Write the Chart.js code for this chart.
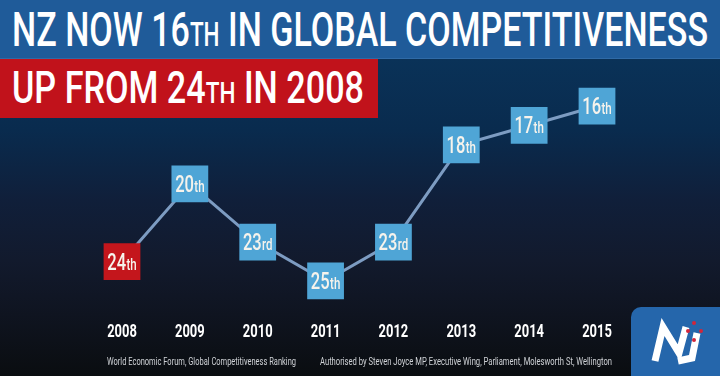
<!DOCTYPE html>
<html>
<head>
<meta charset="utf-8">
<script src="https://cdn.jsdelivr.net/npm/chart.js@4"></script>
<style>
html, body { margin: 0; padding: 0; }
body {
  width: 720px; height: 376px; overflow: hidden; position: relative;
  font-family: Roboto, 'Noto Sans', sans-serif;
  background: linear-gradient(to bottom, #0a3258 0px, #0a3258 59px, #092b4e 130px, #101f3a 200px, #121a2d 260px, #0f1420 315px, #0a0d10 376px);
}
#chart { position: absolute; left: 0; top: 0; }
.band { position: absolute; left: 0; }
#band1 { top: 0; width: 720px; height: 58px; background: #1f5b99; border-bottom: 1px solid #2f6aa6; }
#band2 { top: 59px; width: 378px; height: 59px; background: #c1121b; }
.fit { position: absolute; white-space: nowrap; line-height: 1; transform-origin: 0 0; color: #fff; font-weight: 500; }
.small { font-size: 0.66em; }
.foot { color: #cfd2d6; font-size: 11px; font-weight: 400; }
</style>
</head>
<body>
<div class="band" id="band1"></div>
<div class="band" id="band2"></div>
<span class="fit" data-w="696" style="left:11.7px;top:5.3px;font-size:49px">NZ NOW 16<span class="small">TH</span> IN GLOBAL COMPETITIVENESS</span>
<span class="fit" data-w="352" style="left:11.7px;top:66.3px;font-size:44px">UP FROM 24<span class="small">TH</span> IN 2008</span>
<canvas id="chart" width="720" height="376"></canvas>
<span class="fit foot" data-w="189" style="left:107px;top:355.6px">World Economic Forum, Global Competitiveness Ranking</span>
<span class="fit foot" data-w="292" style="left:320px;top:355.6px">Authorised by Steven Joyce MP, Executive Wing, Parliament, Molesworth St, Wellington</span>
<script>
// rankings
var years = ['2008', '2009', '2010', '2011', '2012', '2013', '2014', '2015'];
var ranks = [24, 20, 23, 25, 23, 18, 17, 16];
var suffixes = ['th', 'th', 'rd', 'th', 'rd', 'th', 'th', 'th'];

// squeeze the html texts to the widths in the picture
document.querySelectorAll('.fit').forEach(function(el) {
  var w = el.getBoundingClientRect().width;
  el.style.transform = 'scaleX(' + (+el.dataset.w / w) + ')';
});

var squeeze = 0.72;

// "24th" style labels inside the boxes
var rankLabels = {
  id: 'rankLabels',
  afterDatasetsDraw: function(chart) {
    var ctx = chart.ctx;
    var pts = chart.getDatasetMeta(0).data;
    ctx.save();
    ctx.fillStyle = '#f6f3ec';
    ctx.textBaseline = 'alphabetic';
    pts.forEach(function(p, i) {
      var num = String(ranks[i]), suf = suffixes[i];
      ctx.font = '500 23px Roboto';
      var wn = ctx.measureText(num).width;
      ctx.font = '500 16px Roboto';
      var ws = ctx.measureText(suf).width;
      var total = (wn + ws + 0.5) * squeeze;
      ctx.save();
      ctx.translate(p.x - total / 2, p.y + 8);
      ctx.scale(squeeze, 1);
      ctx.font = '500 23px Roboto';
      ctx.fillText(num, 0, 0);
      ctx.font = '500 16px Roboto';
      ctx.fillText(suf, wn + 0.5, 0);
      ctx.restore();
    });
    ctx.restore();
  }
};

// year labels under the points + party logo
var yearAxis = {
  id: 'yearAxis',
  afterDraw: function(chart) {
    var ctx = chart.ctx;
    var xs = chart.scales.x;
    ctx.save();
    ctx.fillStyle = '#ffffff';
    ctx.font = 'bold 18px Roboto';
    ctx.textBaseline = 'alphabetic';
    years.forEach(function(y, i) {
      var x = xs.getPixelForValue(i);
      var w = ctx.measureText(y).width * squeeze;
      ctx.save();
      ctx.translate(x - w / 2, 337);
      ctx.scale(squeeze, 1);
      ctx.fillText(y, 0, 0);
      ctx.restore();
    });

    // logo
    ctx.fillStyle = '#2566ab';
    ctx.beginPath();
    ctx.roundRect(631, 307, 100, 80, 10);
    ctx.fill();
    ctx.strokeStyle = '#ffffff';
    ctx.lineWidth = 7;
    ctx.lineJoin = 'miter';
    ctx.beginPath();
    ctx.moveTo(655, 361);
    ctx.lineTo(663, 327);
    ctx.lineTo(679, 353);
    ctx.lineTo(686, 327);
    ctx.stroke();
    ctx.beginPath();
    ctx.moveTo(697, 333);
    ctx.lineTo(692, 358);
    ctx.lineTo(678, 361);
    ctx.stroke();
    ctx.fillStyle = '#d3263a';
    [[694, 323], [701, 331], [688, 331], [694, 340]].forEach(function(s) {
      ctx.beginPath();
      ctx.arc(s[0], s[1], 2, 0, Math.PI * 2);
      ctx.fill();
    });
    ctx.restore();
  }
};

var chart = new Chart('chart', {
  type: 'line',
  data: {
    labels: years,
    datasets: [{
      data: ranks,
      borderColor: '#7d9cc2',
      borderWidth: 3,
      tension: 0,
      clip: false,
      pointStyle: 'rect',
      pointRadius: 26,
      pointHoverRadius: 26,
      pointBorderWidth: 0,
      pointBackgroundColor: function(c) { return c.dataIndex === 0 ? '#c4161c' : '#4fa5d6'; }
    }]
  },
  options: {
    responsive: false,
    animation: false,
    devicePixelRatio: 1,
    layout: { padding: { left: 122, right: 123, top: 86.6, bottom: 75.6 } },
    plugins: { legend: { display: false }, tooltip: { enabled: false } },
    scales: {
      x: { display: false },
      y: { display: false, reverse: true, min: 15, max: 26 }
    }
  },
  plugins: [rankLabels, yearAxis]
});
</script>
</body>
</html>
